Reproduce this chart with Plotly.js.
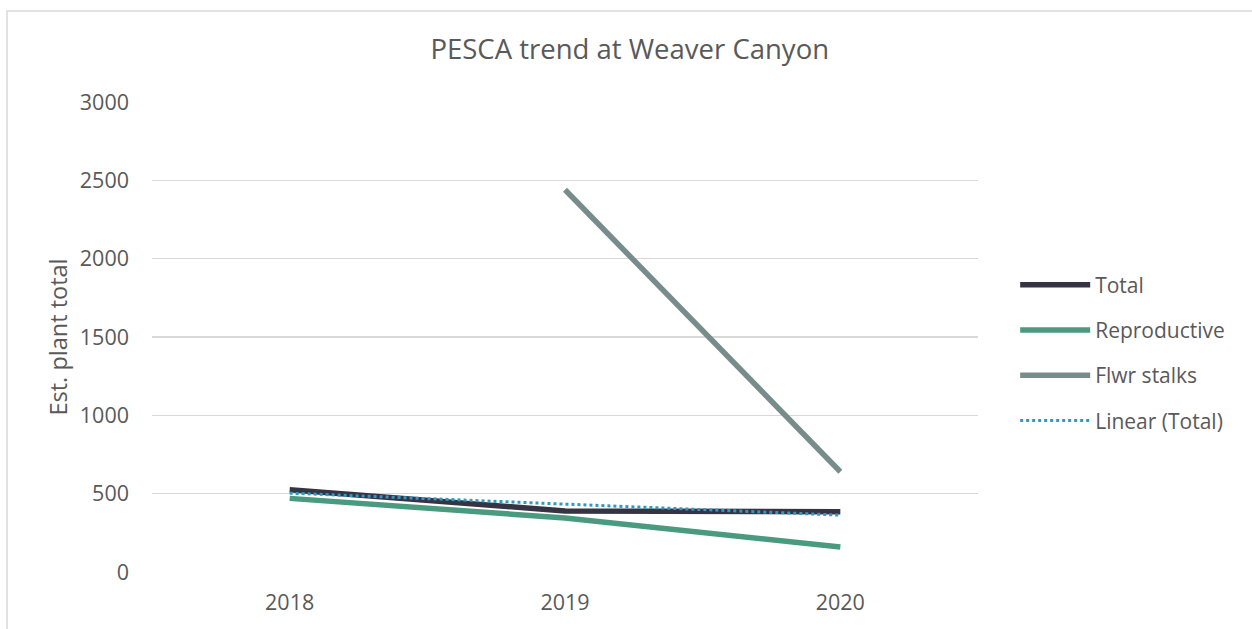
<!DOCTYPE html>
<html>
<head>
<meta charset="utf-8">
<script src="https://cdn.plot.ly/plotly-3.0.1.min.js"></script>
<style>html,body{margin:0;padding:0;background:#fff;}#chart{width:1252px;height:629px;}</style>
</head>
<body>
<div id="chart"></div>
<script>
const years = ['2018', '2019', '2020'];
const total = [525, 390, 385];
const reproductive = [470, 345, 160];
const flwrStalks = [null, 2440, 640];
const yTicks = [0, 500, 1000, 1500, 2000, 2500, 3000];

// Linear trendline of Total (least squares over category index 1..n)
const n = total.length;
const xs = total.map((_, i) => i + 1);
const mx = xs.reduce((a, b) => a + b, 0) / n;
const my = total.reduce((a, b) => a + b, 0) / n;
let sxy = 0, sxx = 0;
for (let i = 0; i < n; i++) { sxy += (xs[i] - mx) * (total[i] - my); sxx += (xs[i] - mx) ** 2; }
const slope = sxy / sxx;
const intercept = my - slope * mx;
const trend = xs.map(x => intercept + slope * x);

const font = 'Open Sans, sans-serif';
const txt = '#595959';

const traces = [
  {x: years, y: total, name: 'Total', mode: 'lines', legendgroup: 'a',
   line: {color: '#363443', width: 5.5}},
  {x: years, y: reproductive, name: 'Reproductive', mode: 'lines', legendgroup: 'b',
   line: {color: '#4a9a80', width: 5.5}},
  {x: years, y: flwrStalks, name: 'Flwr stalks', mode: 'lines', legendgroup: 'c',
   line: {color: '#788c8c', width: 5.5}},
  {x: years, y: trend, name: 'Linear (Total)', mode: 'lines', legendgroup: 'd',
   line: {color: '#2e9ac4', width: 3, dash: 'dot'}}
];

const layout = {
  width: 1252, height: 629,
  margin: {l: 152, r: 274, t: 102, b: 57},
  paper_bgcolor: '#fff', plot_bgcolor: '#fff',
  font: {family: font, color: txt, size: 21},
  title: {text: 'PESCA trend at Weaver Canyon', x: 0.503, xanchor: 'center', y: 0.921, yanchor: 'middle',
          font: {family: font, size: 27.5, color: txt}},
  xaxis: {type: 'category', range: [-0.5, 2.5], showgrid: false, zeroline: false,
          showline: false, ticks: '', tickfont: {size: 21.5, color: txt}, ticklabelstandoff: 15},
  yaxis: {range: [0, 3000], tickvals: yTicks, showgrid: true, gridcolor: '#d9d9d9', gridwidth: 1.5,
          zeroline: false, showline: false, ticks: '', tickfont: {size: 21.5, color: txt},
          ticklabelstandoff: 22,
          title: {text: 'Est. plant total', font: {size: 23.5, color: txt}, standoff: 5}},
  showlegend: true,
  legend: {x: 1.045, xanchor: 'left', y: 0.466, yanchor: 'middle', font: {size: 21, color: txt},
           itemwidth: 70, tracegroupgap: 15, traceorder: 'grouped', bgcolor: 'rgba(0,0,0,0)'},
  shapes: [
    {type: 'rect', xref: 'paper', yref: 'paper', x0: -0.1755, x1: 1.4, y0: -0.3, y1: 1.1936,
     line: {color: '#d9d9d9', width: 1.5}, fillcolor: 'rgba(0,0,0,0)', layer: 'below'}
  ]
};

Plotly.newPlot('chart', traces, layout, {displayModeBar: false, staticPlot: true});
</script>
</body>
</html>
